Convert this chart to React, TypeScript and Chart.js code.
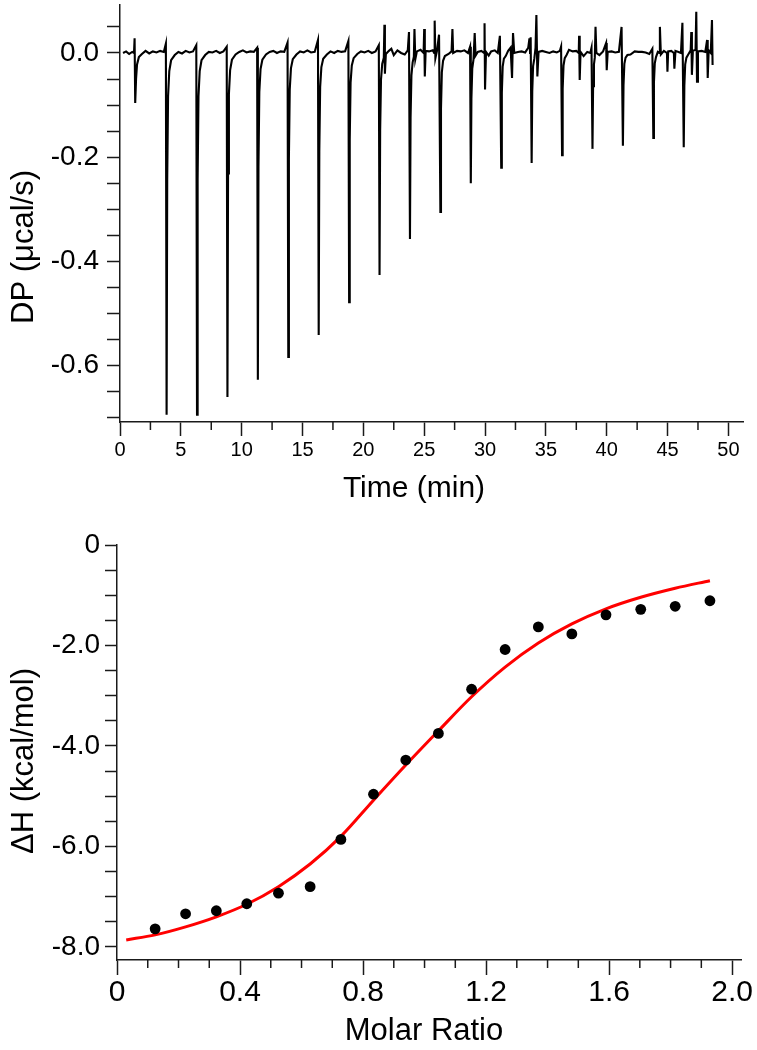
import React, { useEffect, useRef } from 'react';
import { Chart, registerables } from 'chart.js';

Chart.register(...registerables);

const FONT = "'Liberation Sans', Arial, Helvetica, sans-serif";

// ---------- Top panel: raw thermogram (time in min, DP in µcal/s) ----------
const thermogram: [number, number][] = [
  [0.25, 0.0], [0.5, 0.003], [0.75, -0.002], [1.0, 0.002], [1.15, 0.0],
  [1.2, 0.028], [1.25, -0.096], [1.32, -0.05], [1.4, -0.022], [1.55, -0.008], [1.8, -0.002],
  [2.1, 0.004], [2.4, -0.001], [2.7, 0.003], [3.0, 0.001], [3.3, 0.004], [3.6, 0.002],
  [3.77, 0.018], [3.83, -0.694], [3.88, -0.243], [3.95, -0.083], [4.05, -0.035], [4.2, -0.014], [4.5, -0.004],
  [4.8, 0.002], [5.1, -0.001], [5.4, 0.004], [5.7, 0.001], [6.0, 0.003],
  [6.27, 0.015], [6.33, -0.694], [6.38, -0.243], [6.45, -0.083], [6.55, -0.035], [6.7, -0.014], [7.0, -0.004],
  [7.3, 0.002], [7.6, 0.001], [7.9, 0.004], [8.2, 0.0], [8.5, 0.003],
  [8.77, 0.012], [8.83, -0.66], [8.88, -0.231], [8.95, -0.079], [9.05, -0.033], [9.2, -0.013], [9.5, -0.003],
  [9.8, 0.002], [10.1, 0.005], [10.4, 0.001], [10.7, 0.003], [11.0, 0.002],
  [11.27, 0.01], [11.33, -0.627], [11.38, -0.219], [11.45, -0.075], [11.55, -0.031], [11.7, -0.013], [12.0, -0.003],
  [12.3, 0.002], [12.6, 0.004], [12.9, 0.0], [13.2, 0.003], [13.5, 0.002],
  [13.77, 0.02], [13.83, -0.583], [13.88, -0.204], [13.95, -0.07], [14.05, -0.029], [14.2, -0.012], [14.5, -0.003],
  [14.8, 0.003], [15.1, 0.001], [15.4, 0.005], [15.7, 0.001], [16.0, 0.002],
  [16.27, 0.025], [16.33, -0.541], [16.38, -0.189], [16.45, -0.065], [16.55, -0.027], [16.7, -0.011], [17.0, -0.003],
  [17.3, 0.003], [17.6, 0.0], [17.9, 0.004], [18.2, 0.002], [18.5, 0.003],
  [18.77, 0.023], [18.83, -0.478], [18.88, -0.167], [18.95, -0.057], [19.05, -0.024], [19.2, -0.01], [19.5, -0.002],
  [19.8, 0.003], [20.1, 0.001], [20.4, 0.004], [20.7, 0.0], [21.0, 0.003],
  [21.27, 0.015], [21.33, -0.426], [21.38, -0.149], [21.45, -0.051], [21.55, -0.021], [21.68, -0.009], [21.73, 0.054], [21.77, -0.04], [21.85, -0.002],
  [22.1, 0.004], [22.3, 0.008], [22.5, -0.004], [22.8, 0.005], [23.1, 0.0], [23.4, -0.003], [23.65, 0.005],
  [23.75, 0.04], [23.83, -0.357], [23.88, -0.125], [23.95, -0.043], [24.05, -0.018], [24.15, -0.007], [24.2, 0.046], [24.27, -0.012], [24.4, 0.003], [24.7, 0.006], [24.95, 0.0], [25.0, 0.046], [25.05, -0.045], [25.12, 0.004], [25.4, 0.003], [25.7, 0.005], [25.82, 0.0], [25.86, 0.062], [25.92, -0.01], [26.05, 0.004],
  [26.22, 0.035], [26.33, -0.305], [26.38, -0.107], [26.45, -0.037], [26.55, -0.015], [26.7, -0.006], [27.0, -0.002], [27.25, 0.003], [27.32, 0.046], [27.38, 0.0], [27.7, 0.004], [28.0, 0.003], [28.3, 0.005], [28.6, 0.0],
  [28.77, 0.012], [28.83, -0.25], [28.88, -0.088], [28.95, -0.03], [29.05, -0.013], [29.15, 0.038], [29.22, -0.005], [29.4, 0.002], [29.7, 0.004], [29.92, 0.0], [29.96, 0.057], [30.0, -0.07], [30.08, 0.002], [30.3, -0.005], [30.5, 0.003], [30.8, 0.005], [31.05, 0.0],
  [31.22, 0.033], [31.33, -0.22], [31.38, -0.077], [31.45, -0.026], [31.55, -0.011], [31.7, -0.006], [31.9, 0.004], [32.1, 0.01], [32.22, -0.048], [32.3, 0.038], [32.4, 0.0], [32.7, 0.002], [33.0, 0.003], [33.3, 0.001], [33.55, 0.01], [33.65, 0.028], [33.7, 0.0],
  [33.75, 0.03], [33.83, -0.211], [33.88, -0.074], [33.95, -0.025], [34.05, -0.011], [34.15, 0.01], [34.22, 0.073], [34.3, -0.045], [34.4, 0.002], [34.7, 0.004], [35.0, 0.002], [35.3, 0.0], [35.6, 0.003], [35.9, 0.001], [36.15, 0.004],
  [36.25, 0.012], [36.33, -0.196], [36.38, -0.069], [36.45, -0.024], [36.55, -0.01], [36.7, -0.004], [36.9, 0.006], [37.2, 0.003], [37.5, 0.004], [37.7, 0.0], [37.73, 0.033], [37.78, -0.052], [37.85, 0.002], [38.1, -0.006], [38.4, 0.002], [38.65, 0.0],
  [38.75, 0.01], [38.83, -0.184], [38.88, -0.064], [38.95, -0.022], [39.02, -0.009], [39.08, 0.05], [39.15, 0.0], [39.4, -0.004], [39.7, 0.003], [39.95, 0.019], [40.0, -0.033], [40.08, 0.002], [40.4, 0.003], [40.7, 0.001], [41.0, 0.002],
  [41.22, 0.05], [41.33, -0.178], [41.38, -0.062], [41.45, -0.021], [41.55, -0.009], [41.7, -0.004], [41.95, -0.003], [42.3, 0.003], [42.6, 0.002], [42.9, 0.002], [43.2, 0.001], [43.5, -0.002],
  [43.75, 0.008], [43.83, -0.163], [43.88, -0.057], [43.95, -0.02], [44.05, -0.008], [44.2, 0.002], [44.33, 0.0], [44.37, 0.05], [44.45, -0.003], [44.7, 0.004], [44.95, 0.0], [44.99, -0.036], [45.05, 0.003], [45.3, 0.004], [45.52, 0.0], [45.56, -0.03], [45.65, 0.004], [45.9, 0.002], [46.1, 0.0],
  [46.22, 0.058], [46.33, -0.181], [46.38, -0.063], [46.45, -0.022], [46.55, -0.009], [46.7, -0.003], [46.9, 0.005], [46.95, 0.04], [47.0, -0.042], [47.08, 0.004], [47.3, 0.006], [47.36, 0.079], [47.42, -0.055], [47.5, 0.003], [47.8, 0.004], [48.1, 0.002], [48.25, 0.025], [48.3, -0.048], [48.38, 0.005], [48.55, 0.0], [48.65, 0.063], [48.7, -0.023],
];

const timeTicks = [0, 2.5, 5, 7.5, 10, 12.5, 15, 17.5, 20, 22.5, 25, 27.5, 30, 32.5, 35, 37.5, 40, 42.5, 45, 47.5, 50];
const dpTicks = [-0.7, -0.65, -0.6, -0.55, -0.5, -0.45, -0.4, -0.35, -0.3, -0.25, -0.2, -0.15, -0.1, -0.05, 0, 0.05];

// ---------- Bottom panel: integrated heats ----------
const molarRatio = [0.124, 0.223, 0.323, 0.422, 0.525, 0.628, 0.728, 0.834, 0.939, 1.045, 1.153, 1.262, 1.37, 1.479, 1.59, 1.703, 1.815, 1.928];
const deltaH = [-7.64, -7.34, -7.28, -7.14, -6.93, -6.8, -5.86, -4.96, -4.28, -3.75, -2.87, -2.08, -1.63, -1.77, -1.39, -1.28, -1.22, -1.11];
const fitRatio = [0.03, 0.124, 0.223, 0.323, 0.422, 0.525, 0.628, 0.728, 0.834, 0.939, 1.045, 1.153, 1.262, 1.37, 1.479, 1.59, 1.703, 1.815, 1.928];
const fitDeltaH = [-7.86, -7.76, -7.6, -7.4, -7.15, -6.8, -6.35, -5.8, -5.08, -4.38, -3.7, -3.02, -2.43, -1.95, -1.57, -1.27, -1.04, -0.86, -0.71];

const ratioTicks = [0, 0.1, 0.2, 0.3, 0.4, 0.5, 0.6, 0.7, 0.8, 0.9, 1.0, 1.1, 1.2, 1.3, 1.4, 1.5, 1.6, 1.7, 1.8, 1.9, 2.0];
const dhTicks = [-8, -7.5, -7, -6.5, -6, -5.5, -5, -4.5, -4, -3.5, -3, -2.5, -2, -1.5, -1, -0.5, 0];

const AXIS = '#1a1a1a';

function minorTicksPlugin(length: number) {
  return {
    id: 'minorTicks',
    afterDraw(chart: any) {
      const scale = chart.scales.x;
      const ctx = chart.ctx;
      ctx.save();
      ctx.strokeStyle = AXIS;
      ctx.lineWidth = 1.5;
      scale.ticks.forEach((t: any) => {
        if (t.label !== '') return;
        const px = scale.getPixelForValue(t.value);
        ctx.beginPath();
        ctx.moveTo(px, scale.top);
        ctx.lineTo(px, scale.top + length);
        ctx.stroke();
      });
      ctx.restore();
    },
  };
}

type TitleItem = { text: string; x: number; y: number; size: number; rotate?: boolean };
function titlesPlugin(items: TitleItem[]) {
  return {
    id: 'axisTitles',
    afterDraw(chart: any) {
      const ctx = chart.ctx;
      items.forEach((it) => {
        ctx.save();
        ctx.font = `${it.size}px ${FONT}`;
        ctx.fillStyle = '#000';
        ctx.textAlign = 'center';
        ctx.textBaseline = 'alphabetic';
        ctx.translate(it.x, it.y);
        if (it.rotate) ctx.rotate(-Math.PI / 2);
        ctx.fillText(it.text, 0, 0);
        ctx.restore();
      });
    },
  };
}

function setTicks(values: number[]) {
  return (scale: any) => {
    scale.ticks = values.map((v) => ({ value: v }));
  };
}

function fixX(h: number) {
  return (scale: any) => {
    scale.height = h;
    scale.paddingLeft = 0;
    scale.paddingRight = 0;
  };
}
function fixY(w: number) {
  return (scale: any) => {
    scale.width = w;
    scale.paddingTop = 0;
    scale.paddingBottom = 0;
  };
}

const majorOnly = (ctx: any) => (ctx.tick && ctx.tick.label === '' ? 'rgba(0,0,0,0)' : AXIS);

export default function App() {
  const topRef = useRef<HTMLCanvasElement | null>(null);
  const botRef = useRef<HTMLCanvasElement | null>(null);

  useEffect(() => {
    const top = new Chart(topRef.current as HTMLCanvasElement, {
      type: 'scatter',
      data: {
        datasets: [
          {
            data: thermogram.map(([x, y]) => ({ x, y })),
            showLine: true,
            borderColor: '#000',
            borderWidth: 2.1,
            pointRadius: 0,
            tension: 0,
          },
        ],
      },
      options: {
        animation: false,
        responsive: false,
        devicePixelRatio: 1,
        layout: { padding: { top: 5, right: 14, left: 0, bottom: 0 } },
        plugins: { legend: { display: false }, tooltip: { enabled: false } },
        scales: {
          x: {
            type: 'linear',
            min: 0,
            max: 51.2,
            afterBuildTicks: setTicks(timeTicks),
            afterFit: fixX(98),
            ticks: {
              autoSkip: false,
              maxRotation: 0,
              minRotation: 0,
              padding: 2,
              color: '#000',
              font: { family: FONT, size: 20 },
              callback: (v: any) => (Number(v) % 5 === 0 ? String(v) : ''),
            },
            grid: { drawOnChartArea: false, drawTicks: true, tickLength: 14, tickWidth: 1.5, tickColor: majorOnly },
            border: { display: true, color: AXIS, width: 1.5 },
          },
          y: {
            type: 'linear',
            min: -0.708,
            max: 0.092,
            afterBuildTicks: setTicks(dpTicks),
            afterFit: fixY(120),
            ticks: {
              autoSkip: false,
              padding: 8,
              color: '#000',
              font: { family: FONT, size: 28 },
              callback: (v: any) => {
                const n = Number(v);
                const r = Math.round(n * 100);
                if (Math.abs(r) % 20 !== 0) return '';
                return r === 0 ? '0.0' : n.toFixed(1);
              },
            },
            grid: { drawOnChartArea: false, drawTicks: true, tickLength: 13, tickWidth: 1.5, tickColor: AXIS },
            border: { display: true, color: AXIS, width: 1.5 },
          },
        },
      },
      plugins: [
        minorTicksPlugin(8),
        titlesPlugin([
          { text: 'Time (min)', x: 414, y: 497, size: 30 },
          { text: 'DP (\u03bccal/s)', x: 33, y: 247, size: 31, rotate: true },
        ]),
      ],
    } as any);

    const bottom = new Chart(botRef.current as HTMLCanvasElement, {
      type: 'scatter',
      data: {
        datasets: [
          {
            data: molarRatio.map((x, i) => ({ x, y: deltaH[i] })),
            showLine: false,
            pointRadius: 5.4,
            pointBorderWidth: 0,
            backgroundColor: '#000',
            borderColor: '#000',
          },
          {
            data: fitRatio.map((x, i) => ({ x, y: fitDeltaH[i] })),
            showLine: true,
            borderColor: '#ff0000',
            borderWidth: 3,
            pointRadius: 0,
            cubicInterpolationMode: 'monotone',
          },
        ],
      },
      options: {
        animation: false,
        responsive: false,
        devicePixelRatio: 1,
        layout: { padding: { top: 25, right: 16, left: 0, bottom: 0 } },
        plugins: { legend: { display: false }, tooltip: { enabled: false } },
        scales: {
          x: {
            type: 'linear',
            min: 0,
            max: 2.029,
            afterBuildTicks: setTicks(ratioTicks),
            afterFit: fixX(90),
            ticks: {
              autoSkip: false,
              maxRotation: 0,
              minRotation: 0,
              padding: 0,
              color: '#000',
              font: { family: FONT, size: 30 },
              callback: (v: any) => {
                const n = Number(v);
                const r = Math.round(n * 10);
                if (r % 4 !== 0) return '';
                return r === 0 ? '0' : n.toFixed(1);
              },
            },
            grid: { drawOnChartArea: false, drawTicks: true, tickLength: 15, tickWidth: 1.5, tickColor: majorOnly },
            border: { display: true, color: AXIS, width: 1.5 },
          },
          y: {
            type: 'linear',
            min: -8.26,
            max: 0,
            afterBuildTicks: setTicks(dhTicks),
            afterFit: fixY(117),
            ticks: {
              autoSkip: false,
              padding: 5,
              color: '#000',
              font: { family: FONT, size: 28 },
              callback: (v: any) => {
                const n = Number(v);
                const r = Math.round(n * 2);
                if (Math.abs(r) % 4 !== 0) return '';
                return r === 0 ? '0' : n.toFixed(1);
              },
            },
            grid: { drawOnChartArea: false, drawTicks: true, tickLength: 12, tickWidth: 1.5, tickColor: AXIS },
            border: { display: true, color: AXIS, width: 1.5 },
          },
        },
      },
      plugins: [
        minorTicksPlugin(8),
        titlesPlugin([
          { text: 'Molar Ratio', x: 424, y: 520, size: 31 },
          { text: '\u0394H (kcal/mol)', x: 33, y: 241, size: 31, rotate: true },
        ]),
      ],
    } as any);

    return () => {
      top.destroy();
      bottom.destroy();
    };
  }, []);

  return (
    <div style={{ position: 'absolute', left: 0, top: 0, width: 757, height: 1050, background: '#fff' }}>
      <canvas ref={topRef} width={757} height={520} style={{ position: 'absolute', left: 0, top: 0 }} />
      <canvas ref={botRef} width={757} height={530} style={{ position: 'absolute', left: 0, top: 520 }} />
    </div>
  );
}
